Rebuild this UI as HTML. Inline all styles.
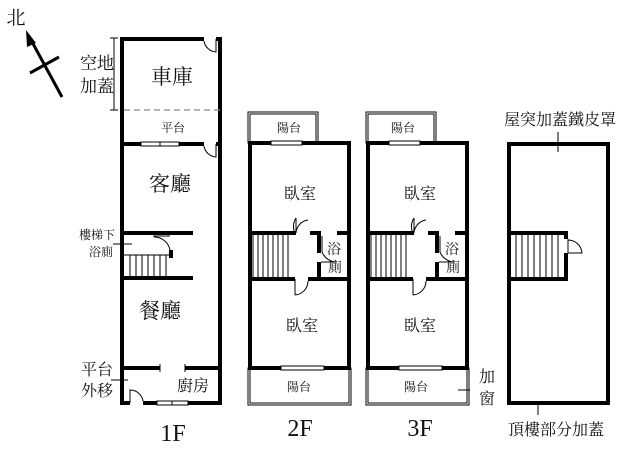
<!DOCTYPE html>
<html><head><meta charset="utf-8"><style>
html,body{margin:0;padding:0;background:#fff}
svg{display:block}
text{font-family:"Liberation Serif","Noto Serif CJK SC","Noto Sans CJK TC",serif;fill:#111}
.s{font-family:"Liberation Serif",serif}
</style></head><body>
<svg width="640" height="452" viewBox="0 0 640 452" xmlns="http://www.w3.org/2000/svg">
<g stroke="#000" fill="none">
<!-- north -->
<line x1="62" y1="97" x2="31" y2="40" stroke-width="3"/>
<polygon points="26,30 36,43 27,47" fill="#000" stroke="none"/>
<line x1="30" y1="73" x2="59" y2="57" stroke-width="3"/>
<!-- 1F -->
<g stroke-width="4">
<line x1="122" y1="37" x2="122" y2="405"/>
<line x1="220" y1="37" x2="220" y2="405"/>
<line x1="120" y1="39" x2="204" y2="39"/>
<line x1="216" y1="39" x2="222" y2="39"/>
<line x1="120" y1="144" x2="141" y2="144"/>
<line x1="179" y1="144" x2="204" y2="144"/>
<line x1="216" y1="144" x2="222" y2="144"/>
<line x1="120" y1="233" x2="193" y2="233"/>
<line x1="120" y1="278" x2="193" y2="278"/>
<line x1="171" y1="250" x2="171" y2="258"/>
<line x1="120" y1="368" x2="160" y2="368"/>
<line x1="185" y1="368" x2="222" y2="368"/>
<line x1="120" y1="403" x2="130" y2="403"/>
<line x1="143" y1="403" x2="157" y2="403"/>
<line x1="188" y1="403" x2="222" y2="403"/>
</g>
<rect x="141" y="142" width="38" height="4" stroke-width="1" fill="#fff"/>
<line x1="160" y1="142" x2="160" y2="146" stroke-width="1"/>
<rect x="157" y="401" width="31" height="4" stroke-width="1" fill="#fff"/>
<line x1="172" y1="401" x2="172" y2="405" stroke-width="1"/>
<line x1="124" y1="110" x2="220" y2="110" stroke="#888" stroke-width="1.2" stroke-dasharray="6,4"/>
<path d="M216 39 L216 52 A13 13 0 0 1 204 41" stroke-width="1"/>
<path d="M216 144 L216 157 A13 13 0 0 1 204 146" stroke-width="1"/>
<path d="M130 403 L130 390 A13 13 0 0 1 143 401" stroke-width="1"/>
<path d="M154 237 A16 16 0 0 1 170 250" stroke-width="1"/>
<line x1="153" y1="236" x2="170" y2="236" stroke-width="1"/>
<g stroke-width="1"><line x1="124" y1="255" x2="170" y2="255"/>
<line x1="130" y1="255" x2="130" y2="278"/><line x1="136" y1="255" x2="136" y2="278"/><line x1="142" y1="255" x2="142" y2="278"/><line x1="148" y1="255" x2="148" y2="278"/><line x1="154" y1="255" x2="154" y2="278"/><line x1="160" y1="255" x2="160" y2="278"/><line x1="166" y1="255" x2="166" y2="278"/></g>
<line x1="114" y1="38" x2="114" y2="110" stroke-width="1"/>
<line x1="110" y1="38" x2="118" y2="38" stroke-width="1"/><line x1="110" y1="110" x2="118" y2="110" stroke-width="1"/>
<line x1="113" y1="244" x2="132" y2="244" stroke-width="1"/>
<line x1="111" y1="380" x2="128" y2="380" stroke-width="1"/>
<line x1="160" y1="364" x2="160" y2="372" stroke-width="1"/><line x1="185" y1="364" x2="185" y2="372" stroke-width="1"/>

<!-- 2F/3F -->
<g id="fl">
<rect x="248" y="112" width="70" height="31" stroke-width="1"/>
<rect x="250" y="114" width="66" height="29" stroke-width="1"/>
<rect x="248" y="368" width="103" height="37" stroke-width="1"/>
<rect x="250" y="368" width="99" height="35" stroke-width="1"/>
<g stroke-width="4">
<line x1="250" y1="141" x2="250" y2="370"/>
<line x1="349" y1="141" x2="349" y2="370"/>
<line x1="248" y1="143" x2="271" y2="143"/>
<line x1="302" y1="143" x2="351" y2="143"/>
<line x1="248" y1="368" x2="281" y2="368"/>
<line x1="324" y1="368" x2="351" y2="368"/>
<line x1="248" y1="233" x2="296" y2="233"/>
<line x1="310" y1="233" x2="321" y2="233"/>
<line x1="337" y1="233" x2="351" y2="233"/>
<line x1="248" y1="279" x2="295" y2="279"/>
<line x1="308" y1="279" x2="351" y2="279"/>
<line x1="319" y1="233" x2="319" y2="253"/>
<line x1="319" y1="262" x2="319" y2="279"/>
</g>
<rect x="271" y="141" width="31" height="4" stroke-width="1" fill="#fff"/>
<rect x="281" y="366" width="43" height="4" stroke-width="1" fill="#fff"/>
<g stroke-width="1">
<line x1="296" y1="233" x2="296" y2="218"/><path d="M296 218 A15 15 0 0 0 295 233"/>
<path d="M308 220 A14 14 0 0 0 296 233"/>
<line x1="295" y1="279" x2="295" y2="295"/><path d="M295 295 A14 14 0 0 0 308 281"/>
<path d="M322 236 L322 252 A16 16 0 0 0 337 262"/>
<line x1="321" y1="262" x2="336" y2="262"/>
<line x1="253" y1="233" x2="253" y2="279"/>
<line x1="258" y1="233" x2="258" y2="279"/><line x1="263" y1="233" x2="263" y2="279"/><line x1="268" y1="233" x2="268" y2="279"/><line x1="273" y1="233" x2="273" y2="279"/><line x1="278" y1="233" x2="278" y2="279"/><line x1="283" y1="233" x2="283" y2="279"/><line x1="288" y1="233" x2="288" y2="279"/>
</g>
</g>
<use href="#fl" transform="translate(118,0)"/>
<line x1="458" y1="390" x2="470" y2="390" stroke-width="1"/>
<!-- roof -->
<g stroke-width="4">
<rect x="509" y="144" width="99" height="259"/>
<line x1="509" y1="233" x2="568" y2="233"/>
<line x1="509" y1="279" x2="568" y2="279"/>
<line x1="566" y1="233" x2="566" y2="239"/>
<line x1="566" y1="253" x2="566" y2="279"/>
</g>
<g stroke-width="1">
<path d="M568 239 L568 253 M568 240 A14 14 0 0 1 582 253 L568 253"/>
<line x1="516" y1="233" x2="516" y2="279"/><line x1="522" y1="233" x2="522" y2="279"/><line x1="528" y1="233" x2="528" y2="279"/><line x1="534" y1="233" x2="534" y2="279"/><line x1="540" y1="233" x2="540" y2="279"/><line x1="546" y1="233" x2="546" y2="279"/><line x1="552" y1="233" x2="552" y2="279"/><line x1="558" y1="233" x2="558" y2="279"/>
<line x1="558" y1="132" x2="558" y2="152"/>
<line x1="538" y1="403" x2="538" y2="415"/>
</g>
</g>
<g text-anchor="middle">
<text x="16" y="24" font-size="19">北</text>
<text x="97" y="69" font-size="17">空地</text>
<text x="97" y="92" font-size="17">加蓋</text>
<text x="172" y="84" font-size="21">車庫</text>
<text x="173" y="132" font-size="12">平台</text>
<text x="170" y="191" font-size="21">客廳</text>
<text x="97" y="239" font-size="12">樓梯下</text>
<text x="101" y="256" font-size="12">浴廁</text>
<text x="160" y="318" font-size="21">餐廳</text>
<text x="97" y="375" font-size="16">平台</text>
<text x="97" y="396" font-size="16">外移</text>
<text x="193" y="391" font-size="16">廚房</text>
<text x="173" y="441" font-size="24" class="s">1F</text>
<text x="289" y="132" font-size="12">陽台</text>
<text x="300" y="199" font-size="16">臥室</text>
<text x="334" y="254" font-size="14">浴</text>
<text x="335" y="272" font-size="14">廁</text>
<text x="302" y="331" font-size="16">臥室</text>
<text x="299" y="391" font-size="12">陽台</text>
<text x="300" y="436" font-size="24" class="s">2F</text>
<text x="403" y="132" font-size="12">陽台</text>
<text x="420" y="199" font-size="16">臥室</text>
<text x="452" y="254" font-size="14">浴</text>
<text x="453" y="272" font-size="14">廁</text>
<text x="420" y="331" font-size="16">臥室</text>
<text x="416" y="391" font-size="12">陽台</text>
<text x="420" y="436" font-size="24" class="s">3F</text>
<text x="487" y="382" font-size="16">加</text>
<text x="487" y="404" font-size="16">窗</text>
<text x="560" y="125" font-size="16">屋突加蓋鐵皮罩</text>
<text x="556" y="435" font-size="16">頂樓部分加蓋</text>
</g>
</svg>
</body></html>
